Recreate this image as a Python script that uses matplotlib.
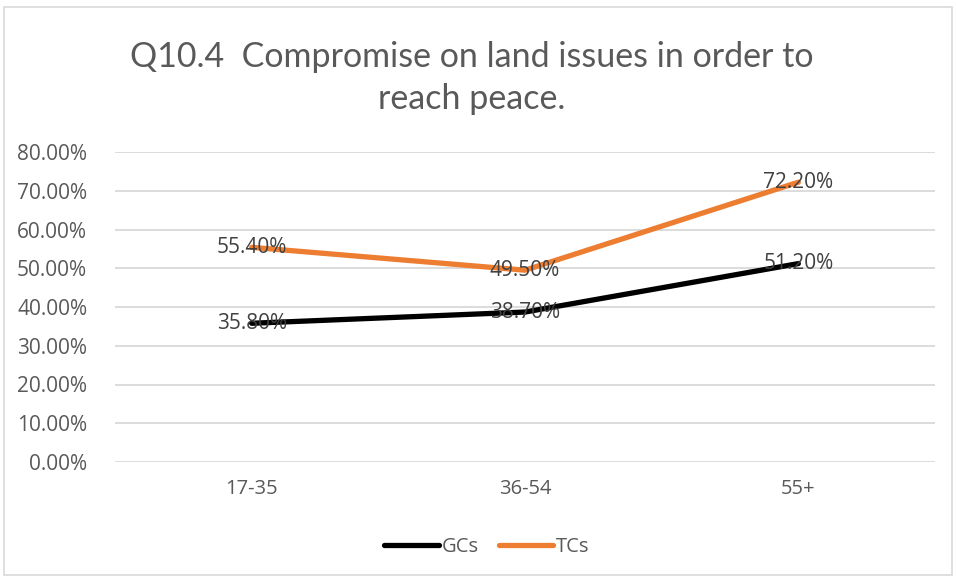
import matplotlib
matplotlib.use("Agg")
import matplotlib.pyplot as plt
from matplotlib.patches import Rectangle

# age groups and share agreeing (fraction)
groups = ["17-35", "36-54", "55+"]
gcs = [0.358, 0.387, 0.512]
tcs = [0.554, 0.495, 0.722]
gc_labels = ["35.80%", "38.70%", "51.20%"]
tc_labels = ["55.40%", "49.50%", "72.20%"]

plt.rcParams['font.family'] = ['Open Sans', 'DejaVu Sans']

fig = plt.figure(figsize=(9.56, 5.79), dpi=100)
fig.patches.append(Rectangle((4/956, 4/579), 948/956, 568/579, transform=fig.transFigure,
                             fill=False, edgecolor="#D9D9D9", linewidth=1.2))

ax = fig.add_axes([115/956, 1 - 462/579, 820/956, 310/579])
x = range(len(groups))
ax.plot(x, gcs, color="black", linewidth=3.8, solid_capstyle="round", label="GCs", zorder=3)
ax.plot(x, tcs, color="#ED7D31", linewidth=3.8, solid_capstyle="round", label="TCs", zorder=3)

for i in x:
    ax.text(i, gcs[i], gc_labels[i], ha="center", va="center", fontsize=15, color="#404040", zorder=4)
    ax.text(i, tcs[i], tc_labels[i], ha="center", va="center", fontsize=15, color="#404040", zorder=4)

ax.set_xlim(-0.5, 2.5)
ax.set_ylim(0, 0.8)
yt = [i / 10 for i in range(9)]
ax.set_yticks(yt)
ax.set_yticklabels(["%.2f%%" % (v * 100) for v in yt], fontsize=15, color="#595959")
ax.set_xticks(list(x))
ax.set_xticklabels(groups, fontsize=14.5, color="#595959")
ax.tick_params(length=0, axis="y", pad=20)
ax.tick_params(length=0, axis="x", pad=12)
ax.grid(axis="y", color="#D9D9D9", linewidth=1.3)
ax.set_axisbelow(True)
for s in ax.spines.values():
    s.set_visible(False)

fig.text(472/956, 1 - 57/579, "Q10.4  Compromise on land issues in order to", ha="center", va="center",
         fontsize=24.5, color="#595959", family=['Lato', 'DejaVu Sans'])
fig.text(472/956, 1 - 99/579, "reach peace.", ha="center", va="center", fontsize=24.5, color="#595959",
         family=['Lato', 'DejaVu Sans'])

fig.legend(loc="center", bbox_to_anchor=(487/956, 1 - 547/579), ncol=2, frameon=False,
           fontsize=14.5, labelcolor="#595959", handlelength=2.7, handletextpad=0.15, columnspacing=1.0)

fig.savefig("out.png", dpi=100)
